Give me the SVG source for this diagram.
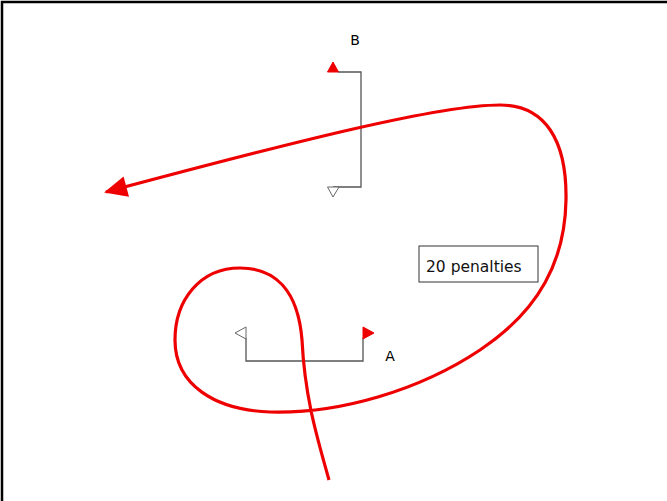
<svg xmlns="http://www.w3.org/2000/svg" width="667" height="501" viewBox="0 0 667 501">
<style>
.mark{fill:none;stroke:#555;stroke-width:1.3}
.red{fill:#e00;stroke:#e00;stroke-width:1}
.wht{fill:#fff;stroke:#666;stroke-width:1}
.lbl{font-family:"DejaVu Sans",Verdana,sans-serif;font-size:14px;fill:#000}
</style>
<defs>
<marker id="ah" markerUnits="userSpaceOnUse" markerWidth="30" markerHeight="30" refX="22" refY="12" orient="auto">
<path d="M24 12 L1 1.5 L1 22.5 Z" fill="#e00"/>
</marker>
</defs>
<rect width="667" height="501" fill="#fff"/>
<path d="M2 501 V2 H667" fill="none" stroke="#000" stroke-width="2.5"/>
<g id="markB">
<path class="mark" d="M338 72 H361 V187 H333"/>
<path class="red" d="M327.5 72 L333 62 L338.5 72 Z"/>
<path class="wht" d="M327.5 187 L339 187 L333 197 Z"/>
<text class="lbl" x="355" y="45" text-anchor="middle">B</text>
</g>
<g id="markA">
<path class="mark" d="M246 338 V361 H363 V338"/>
<path class="wht" d="M246 327 V339 L235 333 Z"/>
<path class="red" d="M363 327 V339 L374 333 Z"/>
<text class="lbl" x="390" y="361" text-anchor="middle">A</text>
</g>
<g id="penalties">
<rect x="419" y="246" width="119" height="36" fill="#fff" stroke="#333" stroke-width="1"/>
<text x="426" y="272" style="font-family:'DejaVu Sans',Verdana,sans-serif;font-size:15.5px;fill:#111">20 penalties</text>
</g>
<g id="connectors">
<path d="M329 480 C318 440,305 400,302 340 C298 290,275 268,240 268 C200 268,175 300,175 340 C175 385,215 410,270 412 C340 414,420 390,480 350 C540 310,565 260,566 200 C567 140,545 105,500 105 C440 105,300 140,106 192" fill="none" stroke="#e00" stroke-width="3.2" marker-end="url(#ah)"/>
</g>
</svg>
